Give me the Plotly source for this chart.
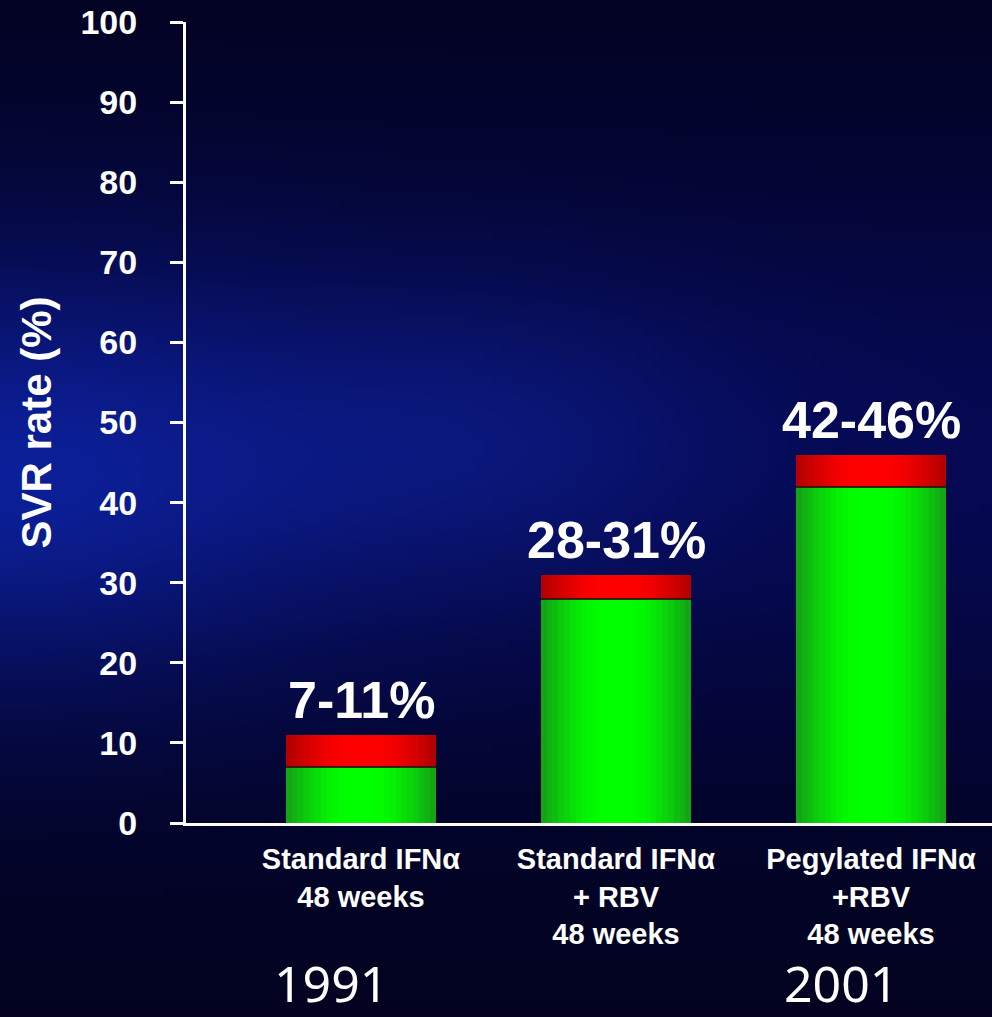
import base64
import struct
import zlib

import numpy as np
import plotly.graph_objects as go

# SVR rates by regimen (low and high end of the reported range, %)
regimens = [
    "Standard IFNα<br>48 weeks",
    "Standard IFNα<br>+ RBV<br>48 weeks",
    "Pegylated IFNα<br>+RBV<br>48 weeks",
]
svr_low = [7, 28, 42]
svr_high = [11, 31, 46]
years = ["1991", "", "2001"]
y_ticks = [0, 10, 20, 30, 40, 50, 60, 70, 80, 90, 100]

W, H = 992, 1017
M_L, M_R, M_T, M_B = 186, 0, 22, 194
PLOT_W = W - M_L - M_R
PLOT_H = H - M_T - M_B


def png_data_uri(rgb):
    """Encode an (h, w, 3) uint8 array as a PNG data URI."""
    h, w, _ = rgb.shape
    raw = b"".join(b"\x00" + rgb[r].tobytes() for r in range(h))

    def chunk(tag, data):
        c = struct.pack(">I", len(data)) + tag + data
        return c + struct.pack(">I", zlib.crc32(tag + data) & 0xFFFFFFFF)

    png = b"\x89PNG\r\n\x1a\n"
    png += chunk(b"IHDR", struct.pack(">IIBBBBB", w, h, 8, 2, 0, 0, 0))
    png += chunk(b"IDAT", zlib.compress(raw, 9))
    png += chunk(b"IEND", b"")
    return "data:image/png;base64," + base64.b64encode(png).decode()


# dark navy backdrop with a soft blue glow on the left and in the centre
gh, gw = 120, 118
v, u = np.mgrid[0:1:gh * 1j, 0:1:gw * 1j]
band = np.exp(-((v - 0.45) / 0.3) ** 2)
left = np.exp(-((u - 0.0) / 0.35) ** 2 - ((v - 0.47) / 0.2) ** 2)
mid = np.exp(-((u - 0.5) / 0.25) ** 2 - ((v - 0.43) / 0.15) ** 2)
r = 3 + 3 * band + 6 * left + 4 * mid
g = 3 + 6 * band + 22 * left + 12 * mid
b = 32 + 50 * band + 70 * left + 32 * mid
bg = np.clip(np.dstack([r, g, b]), 0, 255).astype(np.uint8)
bg_uri = png_data_uri(bg)

x_pos = list(range(len(regimens)))
seg = [hi - lo for lo, hi in zip(svr_low, svr_high)]


def blend(c1, c2, t):
    return "rgb({},{},{})".format(*[int(round(a + (b_ - a) * t)) for a, b_ in zip(c1, c2)])


fig = go.Figure()

# each bar is layered from wide/dark to narrow/bright for a cylindrical shading
bar_w = 0.59
n_layers = 12
for k in range(n_layers):
    t = k / (n_layers - 1)
    w = bar_w * (1 - 0.85 * t)
    shade = np.sin(t * np.pi / 2)
    fig.add_trace(go.Bar(
        x=x_pos, y=svr_low, width=w,
        marker=dict(color=blend((20, 165, 20), (0, 255, 0), shade), line=dict(width=0)),
        hoverinfo="skip", showlegend=False,
    ))
for k in range(n_layers):
    t = k / (n_layers - 1)
    w = bar_w * (1 - 0.85 * t)
    shade = np.sin(t * np.pi / 2)
    fig.add_trace(go.Bar(
        x=x_pos, y=seg, base=svr_low, width=w,
        marker=dict(color=blend((180, 0, 0), (255, 0, 0), shade), line=dict(width=0)),
        hoverinfo="skip", showlegend=False,
    ))

# thin dark seam where the two segments meet
fig.add_trace(go.Bar(
    x=x_pos, y=[0.25] * len(x_pos), base=[lo - 0.12 for lo in svr_low], width=bar_w,
    marker=dict(color="rgba(40,20,10,0.85)", line=dict(width=0)),
    hoverinfo="skip", showlegend=False,
))

annotations = []
for i, (lo, hi) in enumerate(zip(svr_low, svr_high)):
    annotations.append(dict(
        x=i, y=hi, xref="x", yref="y", text=f"{lo}-{hi}%",
        showarrow=False, yanchor="bottom", yshift=4,
        font=dict(family="Liberation Sans", size=52, color="white", weight="bold"),
    ))
for i, yr in enumerate(years):
    if yr:
        annotations.append(dict(
            x=i, y=-(983 - (H - M_B)) / PLOT_H, xref="x", yref="paper",
            text=yr, showarrow=False, yanchor="middle", xshift=-30,
            font=dict(family="Noto Sans", size=50, color="white"),
        ))

x_left = -(361 - M_L) / 255
x_right = x_left + PLOT_W / 255

fig.update_layout(
    width=W, height=H,
    margin=dict(l=M_L, r=M_R, t=M_T, b=M_B, pad=0),
    barmode="overlay",
    bargap=0,
    paper_bgcolor="#05052e",
    plot_bgcolor="rgba(0,0,0,0)",
    showlegend=False,
    annotations=annotations,
    images=[dict(
        source=bg_uri, xref="paper", yref="paper",
        x=-M_L / PLOT_W, y=1 + M_T / PLOT_H,
        sizex=W / PLOT_W, sizey=H / PLOT_H,
        xanchor="left", yanchor="top", sizing="stretch", layer="below",
    )],
    xaxis=dict(
        range=[x_left, x_right],
        tickvals=x_pos, ticktext=regimens,
        ticks="", showgrid=False, zeroline=False,
        showline=True, linecolor="white", linewidth=3,
        tickfont=dict(family="Liberation Sans", size=29, color="white", weight="bold"),
        ticklabelstandoff=8,
    ),
    yaxis=dict(
        range=[0, 100],
        tickvals=y_ticks,
        ticks="outside", ticklen=13, tickwidth=3, tickcolor="white",
        showgrid=False, zeroline=False,
        showline=True, linecolor="white", linewidth=3,
        tickfont=dict(family="Liberation Sans", size=34, color="white", weight="bold"),
        ticklabelstandoff=26,
        title=dict(
            text="SVR rate (%)", standoff=16,
            font=dict(family="Liberation Sans", size=42, color="white", weight="bold"),
        ),
    ),
)

fig.write_html("out.html")
